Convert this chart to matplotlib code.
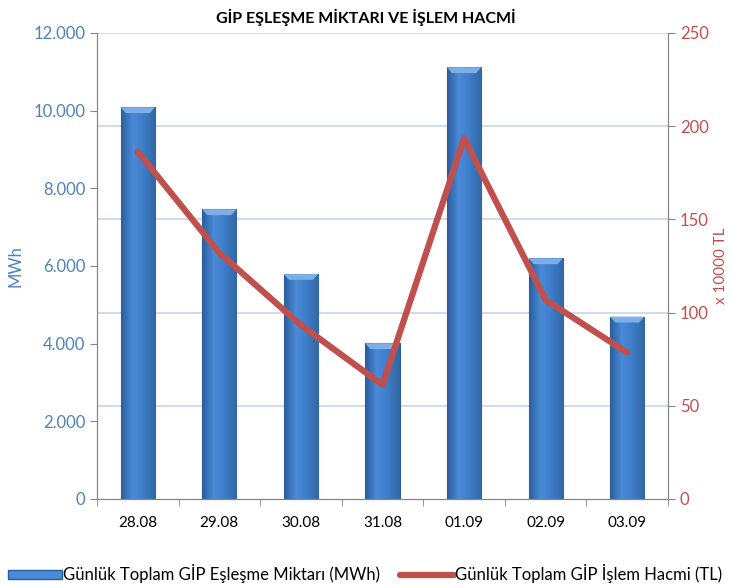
import numpy as np
import matplotlib
matplotlib.use("Agg")
import matplotlib.pyplot as plt
from matplotlib.colors import LinearSegmentedColormap
from matplotlib.patches import Patch
from matplotlib.lines import Line2D

plt.rcParams['font.family'] = ['Lato', 'DejaVu Sans']

# data
days = ["28.08", "29.08", "30.08", "31.08", "01.09", "02.09", "03.09"]
mwh = [10087, 7460, 5794, 4009, 11117, 6198, 4695]
volume = [186.3, 132.0, 93.3, 61.2, 193.5, 106.8, 78.5]   # x 10000 TL

blue = '#4f81bd'
red = '#c0504d'
grid_c = '#c6d6ec'
spine_c = '#868686'

fig = plt.figure(figsize=(7.31, 5.88), dpi=100)
ax = fig.add_axes([0.1327, 0.1514, 0.7811, 0.7925])
ax2 = ax.twinx()

# light gridlines following the right-hand scale
for v in range(50, 251, 50):
    ax.axhline(v * 12000 / 250, color=grid_c, lw=1.2, zorder=0.5)

x = np.arange(len(days))
bars = ax.bar(x, mwh, width=0.42, color='#3d7cc9', edgecolor='#2c5d9c', linewidth=0.8, zorder=2)

# horizontal gradient on the bars for the bevel look
cmap = LinearSegmentedColormap.from_list('bev', ['#2b5e9e', '#4a8ad6', '#3d7cc9', '#33679f'])
grad = np.linspace(0, 1, 64).reshape(1, -1)
for b in bars:
    x0, w, h = b.get_x(), b.get_width(), b.get_height()
    im = ax.imshow(grad, cmap=cmap, aspect='auto', extent=[x0, x0 + w, 0, h], zorder=2.1)
    im.set_clip_path(b)
    # top bevel
    ax.fill([x0, x0 + w, x0 + w * 0.85, x0 + w * 0.15], [h, h, h - 150, h - 150],
            color='#7eaee6', zorder=2.2, lw=0)

ax.set_xlim(-0.5, len(days) - 0.5)
ax.set_ylim(0, 12000)
ax.set_yticks(range(0, 12001, 2000))
ax.set_yticklabels(['0', '2.000', '4.000', '6.000', '8.000', '10.000', '12.000'])
ax.set_xticks(x)
ax.set_xticklabels(days)
ax.set_xticks(np.arange(-0.5, len(days)), minor=True)
ax.tick_params(axis='x', which='major', length=0, pad=12, labelsize=11)
ax.tick_params(axis='x', which='minor', length=5, color=spine_c)
ax.tick_params(axis='y', colors=spine_c, labelcolor=blue, labelsize=12, length=5)
ax.set_ylabel('MWh', color=blue, fontsize=12, labelpad=7)

ax2.plot(x, volume, color=red, lw=4.5, solid_capstyle='round', solid_joinstyle='round', zorder=3)
ax2.set_ylim(0, 250)
ax2.set_yticks(range(0, 251, 50))
ax2.tick_params(axis='y', colors=spine_c, labelcolor=red, labelsize=12, length=5)
ax2.set_ylabel('x 10000 TL', color=red, fontsize=11, labelpad=4)

for a in (ax, ax2):
    a.spines['top'].set_visible(False)
    for s in ('left', 'right', 'bottom'):
        a.spines[s].set_color(spine_c)
ax.set_zorder(ax2.get_zorder() - 1)
ax2.patch.set_visible(False)

fig.text(0.5, 0.971, 'GİP EŞLEŞME MİKTARI VE İŞLEM HACMİ', ha='center', va='center',
         fontsize=11.5, fontweight='bold')

handles = [Patch(facecolor='#4a8ad6', edgecolor='#2c5d9c'),
           Line2D([0], [0], color=red, lw=4.5, solid_capstyle='round')]
labels = ['Günlük Toplam GİP Eşleşme Miktarı (MWh)', 'Günlük Toplam GİP İşlem Hacmi (TL)']
fig.legend(handles, labels, loc='center', bbox_to_anchor=(0.5, 0.024), ncol=2, frameon=False,
           fontsize=12, handlelength=3.2, handleheight=0.5, handletextpad=0.1, columnspacing=1.2)

fig.savefig('out.png', dpi=100)
